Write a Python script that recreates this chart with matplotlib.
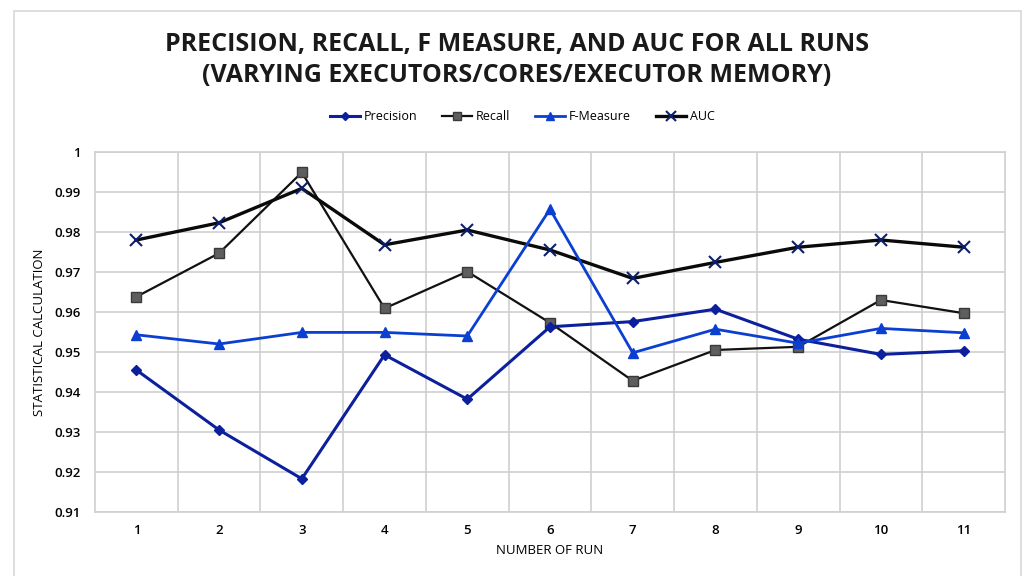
import matplotlib
matplotlib.use("Agg")
import matplotlib.pyplot as plt

runs = [1, 2, 3, 4, 5, 6, 7, 8, 9, 10, 11]
precision = [0.9455, 0.9305, 0.9183, 0.9493, 0.9382, 0.9563, 0.9576, 0.9607, 0.9532, 0.9494, 0.9503]
recall = [0.9638, 0.9747, 0.9949, 0.9609, 0.9701, 0.9573, 0.9428, 0.9505, 0.9513, 0.9630, 0.9597]
f_measure = [0.9543, 0.9520, 0.9549, 0.9549, 0.9540, 0.9857, 0.9498, 0.9557, 0.9522, 0.9559, 0.9548]
auc = [0.9780, 0.9823, 0.9909, 0.9768, 0.9805, 0.9755, 0.9684, 0.9724, 0.9762, 0.9780, 0.9762]
y_ticks = [0.91, 0.92, 0.93, 0.94, 0.95, 0.96, 0.97, 0.98, 0.99, 1.0]
y_tick_labels = ["0.91", "0.92", "0.93", "0.94", "0.95", "0.96", "0.97", "0.98", "0.99", "1"]

plt.rcParams['font.family'] = ['Open Sans', 'DejaVu Sans']

fig = plt.figure(figsize=(10.24, 5.76), dpi=100)
ax = fig.add_axes([95/1024, 1-512/576, 910/1024, 360/576])

navy = "#0c1f9c"
blue = "#0a3fd2"

ax.plot(runs, precision, color=navy, lw=2.2, marker="D", ms=5.5, mfc=navy, mec=navy, label="Precision", zorder=4)
ax.plot(runs, recall, color="#111111", lw=1.6, marker="s", ms=7, mfc="#5e5e5e", mec="#3a3a3a", label="Recall", zorder=3)
ax.plot(runs, f_measure, color=blue, lw=2.0, marker="^", ms=7, mfc=blue, mec=blue, label="F-Measure", zorder=5)
ax.plot(runs, auc, color="#0a0a0a", lw=2.4, marker="x", ms=9, mew=1.5, mec="#0c1f6c", label="AUC", zorder=3)

ax.set_xlim(0.5, 11.5)
ax.set_ylim(0.91, 1.0)
ax.set_xticks(runs)
ax.set_xticklabels([str(r) for r in runs], fontsize=9.5, fontweight="semibold")
ax.set_xticks([r + 0.5 for r in runs[:-1]], minor=True)
ax.set_yticks(y_ticks)
ax.set_yticklabels(y_tick_labels, fontsize=9.5, fontweight="semibold")
ax.tick_params(axis="both", which="both", length=0)
ax.tick_params(axis="x", pad=9)
ax.tick_params(axis="y", pad=10)
ax.grid(True, which="major", axis="y", color="#cfcfcf", lw=1.2)
ax.grid(True, which="minor", axis="x", color="#cfcfcf", lw=1.2)
for s in ax.spines.values():
    s.set_color("#cfcfcf")
    s.set_linewidth(1.2)
ax.set_axisbelow(True)

fig.text(40/1024, 1-332/576, "STATISTICAL CALCULATION", rotation=90, ha="center", va="center", fontsize=9.5)
fig.text(550/1024, 1-551/576, "NUMBER OF RUN", ha="center", va="center", fontsize=9.5)

fig.text(517/1024, 1-45/576, "PRECISION, RECALL, F MEASURE, AND AUC FOR ALL RUNS", ha="center", va="center",
         fontsize=18, fontweight="bold", color="#1a1a1a")
fig.text(517/1024, 1-75/576, "(VARYING EXECUTORS/CORES/EXECUTOR MEMORY)", ha="center", va="center",
         fontsize=18, fontweight="bold", color="#1a1a1a")

fig.legend(loc="center", bbox_to_anchor=(522/1024, 1-117/576), ncol=4, frameon=False, fontsize=9,
           handlelength=2.4, columnspacing=2.0, handletextpad=0.3, markerscale=0.8)

border = plt.Rectangle((14/1024, -0.02), (1021-14)/1024, 1-11/576+0.02, transform=fig.transFigure,
                       fill=False, edgecolor="#d8d8d8", lw=1.2)
fig.add_artist(border)

fig.savefig("out.png", dpi=100, facecolor="white")
